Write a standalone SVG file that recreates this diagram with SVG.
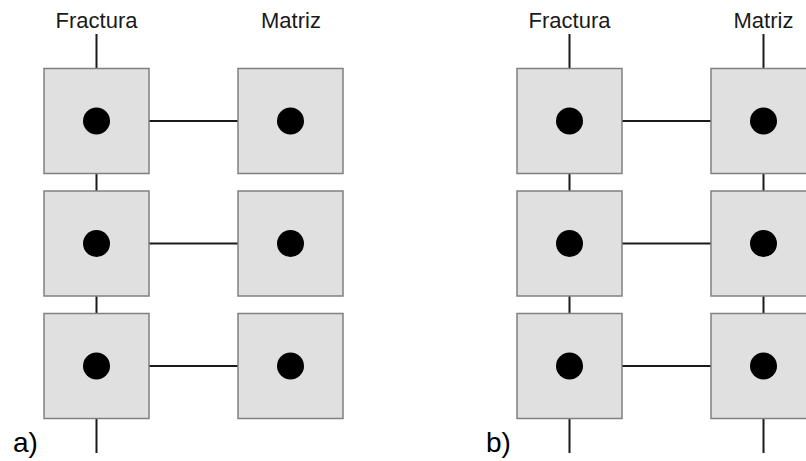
<svg xmlns="http://www.w3.org/2000/svg" width="806" height="461" viewBox="0 0 806 461">
  <defs>
    <style>
      .cell { fill: #e0e0e0; stroke: #808080; stroke-width: 1.5; }
      .dot { fill: #000000; }
      .link { stroke: #1a1a1a; stroke-width: 2; fill: none; }
      .head { font-family: "Liberation Sans", Arial, sans-serif; font-size: 22px; fill: #1a1a1a; text-anchor: middle; }
      .tag { font-family: "Liberation Sans", Arial, sans-serif; font-size: 28px; fill: #000000; }
    </style>
    <g id="cellShape">
      <rect class="cell" x="-52.5" y="-52.5" width="105" height="105"/>
      <circle class="dot" cx="0" cy="0" r="13.5"/>
    </g>
  </defs>

  <rect width="806" height="461" fill="#ffffff"/>

  <!-- connectors -->
  <g id="connectors">
    <!-- panel a: fracture column chain -->
    <path class="link" d="M96.5 34 V68.5 M96.5 173.5 V191 M96.5 296 V313.5 M96.5 418.5 V453"/>
    <!-- panel a: fracture-matrix links -->
    <path class="link" d="M149 121 H238 M149 243.5 H238 M149 366 H238"/>
    <!-- panel b: fracture column chain -->
    <path class="link" d="M569.5 34 V68.5 M569.5 173.5 V191 M569.5 296 V313.5 M569.5 418.5 V453"/>
    <!-- panel b: matrix column chain -->
    <path class="link" d="M763.5 34 V68.5 M763.5 173.5 V191 M763.5 296 V313.5 M763.5 418.5 V453"/>
    <!-- panel b: fracture-matrix links -->
    <path class="link" d="M622 121 H711 M622 243.5 H711 M622 366 H711"/>
  </g>

  <!-- panel a nodes -->
  <g id="a-frac-1"><use href="#cellShape" x="96.5" y="121"/></g>
  <g id="a-frac-2"><use href="#cellShape" x="96.5" y="243.5"/></g>
  <g id="a-frac-3"><use href="#cellShape" x="96.5" y="366"/></g>
  <g id="a-mat-1"><use href="#cellShape" x="290.5" y="121"/></g>
  <g id="a-mat-2"><use href="#cellShape" x="290.5" y="243.5"/></g>
  <g id="a-mat-3"><use href="#cellShape" x="290.5" y="366"/></g>

  <!-- panel b nodes -->
  <g id="b-frac-1"><use href="#cellShape" x="569.5" y="121"/></g>
  <g id="b-frac-2"><use href="#cellShape" x="569.5" y="243.5"/></g>
  <g id="b-frac-3"><use href="#cellShape" x="569.5" y="366"/></g>
  <g id="b-mat-1"><use href="#cellShape" x="763.5" y="121"/></g>
  <g id="b-mat-2"><use href="#cellShape" x="763.5" y="243.5"/></g>
  <g id="b-mat-3"><use href="#cellShape" x="763.5" y="366"/></g>

  <!-- headings and panel tags -->
  <g id="labels">
    <text class="head" x="96.5" y="28">Fractura</text>
    <text class="head" x="291" y="28">Matriz</text>
    <text class="head" x="569.5" y="28">Fractura</text>
    <text class="head" x="763.5" y="28">Matriz</text>
    <text class="tag" x="13" y="452">a)</text>
    <text class="tag" x="486" y="452">b)</text>
  </g>
</svg>
